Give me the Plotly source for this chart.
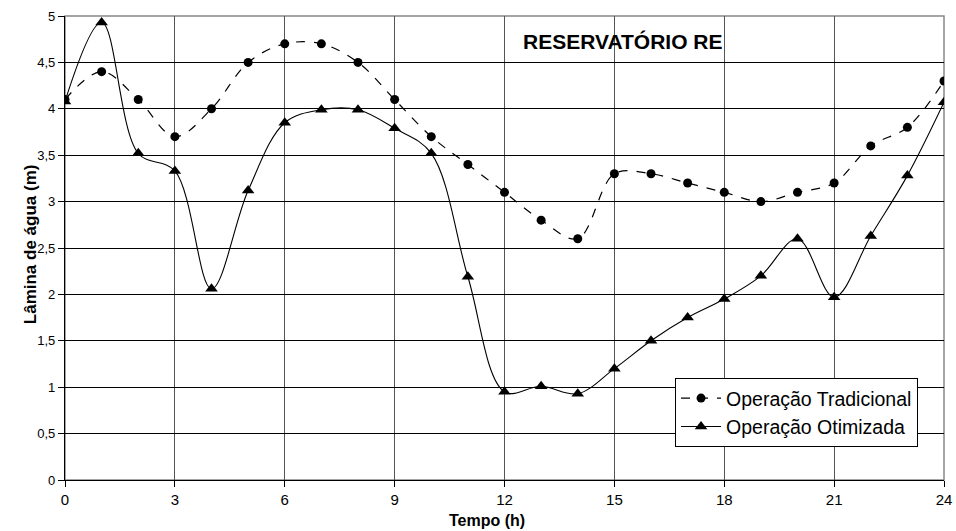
import plotly.graph_objects as go

FONT_FAMILY = "Liberation Sans, Arial, sans-serif"

horas = list(range(25))
tradicional = [4.1, 4.4, 4.1, 3.7, 4.0, 4.5, 4.7, 4.7, 4.5, 4.1, 3.7, 3.4, 3.1,
               2.8, 2.6, 3.3, 3.3, 3.2, 3.1, 3.0, 3.1, 3.2, 3.6, 3.8, 4.3]
otimizada = [4.08, 4.93, 3.52, 3.33, 2.06, 3.12, 3.85, 3.99, 3.99, 3.79, 3.52, 2.19, 0.95,
             1.01, 0.93, 1.2, 1.5, 1.75, 1.95, 2.2, 2.6, 1.97, 2.63, 3.28, 4.07]
x_ticks = [0, 3, 6, 9, 12, 15, 18, 21, 24]
y_ticks = [0, 0.5, 1, 1.5, 2, 2.5, 3, 3.5, 4, 4.5, 5]

fig = go.Figure()
fig.add_trace(go.Scatter(
    x=horas, y=tradicional, name="Operação Tradicional",
    mode="lines+markers",
    line=dict(color="black", width=1.2, dash="dash", shape="spline", smoothing=1),
    marker=dict(symbol="circle", size=9, color="black"),
))
fig.add_trace(go.Scatter(
    x=horas, y=otimizada, name="Operação Otimizada",
    mode="lines+markers",
    line=dict(color="black", width=1.1, shape="spline", smoothing=1),
    marker=dict(symbol="triangle-up", size=11, color="black"),
))

fig.update_layout(
    width=956, height=531,
    font=dict(family=FONT_FAMILY, size=13, color="black"),
    paper_bgcolor="white",
    plot_bgcolor="white",
    separators=",.",
    margin=dict(l=65, r=12, t=16, b=51, autoexpand=False),
    showlegend=True,
    legend=dict(
        x=0.694, y=0.22, xanchor="left", yanchor="top",
        bgcolor="white", bordercolor="black", borderwidth=1,
        font=dict(size=19.5), tracegroupgap=0, itemwidth=40,
    ),
    shapes=[dict(type="rect", xref="paper", yref="paper", x0=0, x1=1, y0=0, y1=1,
                 line=dict(color="#888888", width=1.5), layer="below")],
    annotations=[
        dict(text="<b>RESERVATÓRIO RE</b>", xref="paper", yref="paper",
             x=0.635, y=0.944, yanchor="middle", showarrow=False, font=dict(size=21)),
        dict(text="<b>Tempo (h)</b>", xref="paper", yref="paper",
             x=0.48, y=-0.088, yanchor="middle", showarrow=False, font=dict(size=16)),
        dict(text="<b>Lâmina de água (m)</b>", xref="paper", yref="paper",
             x=-0.053, y=0.508, textangle=-90, showarrow=False, font=dict(size=17)),
    ],
)
fig.update_xaxes(
    range=[0, 24], tickvals=x_ticks, ticks="outside", ticklen=6, tickcolor="black",
    showgrid=True, gridcolor="#555555", gridwidth=1, automargin=False,
    showline=True, linecolor="black", linewidth=1.2, zeroline=False,
    tickfont=dict(size=15),
)
fig.update_yaxes(
    range=[0, 5], tickvals=y_ticks, ticks="outside", ticklen=6, tickcolor="black",
    showgrid=True, gridcolor="black", gridwidth=1, automargin=False,
    showline=True, linecolor="black", linewidth=1.2, zeroline=False,
    tickfont=dict(size=13),
)

# drop the default page margin so the figure fills the window exactly
fig.write_html(
    "out.html",
    config={"displayModeBar": False},
    post_script="document.body.style.margin='0';document.body.style.overflow='hidden';",
)
